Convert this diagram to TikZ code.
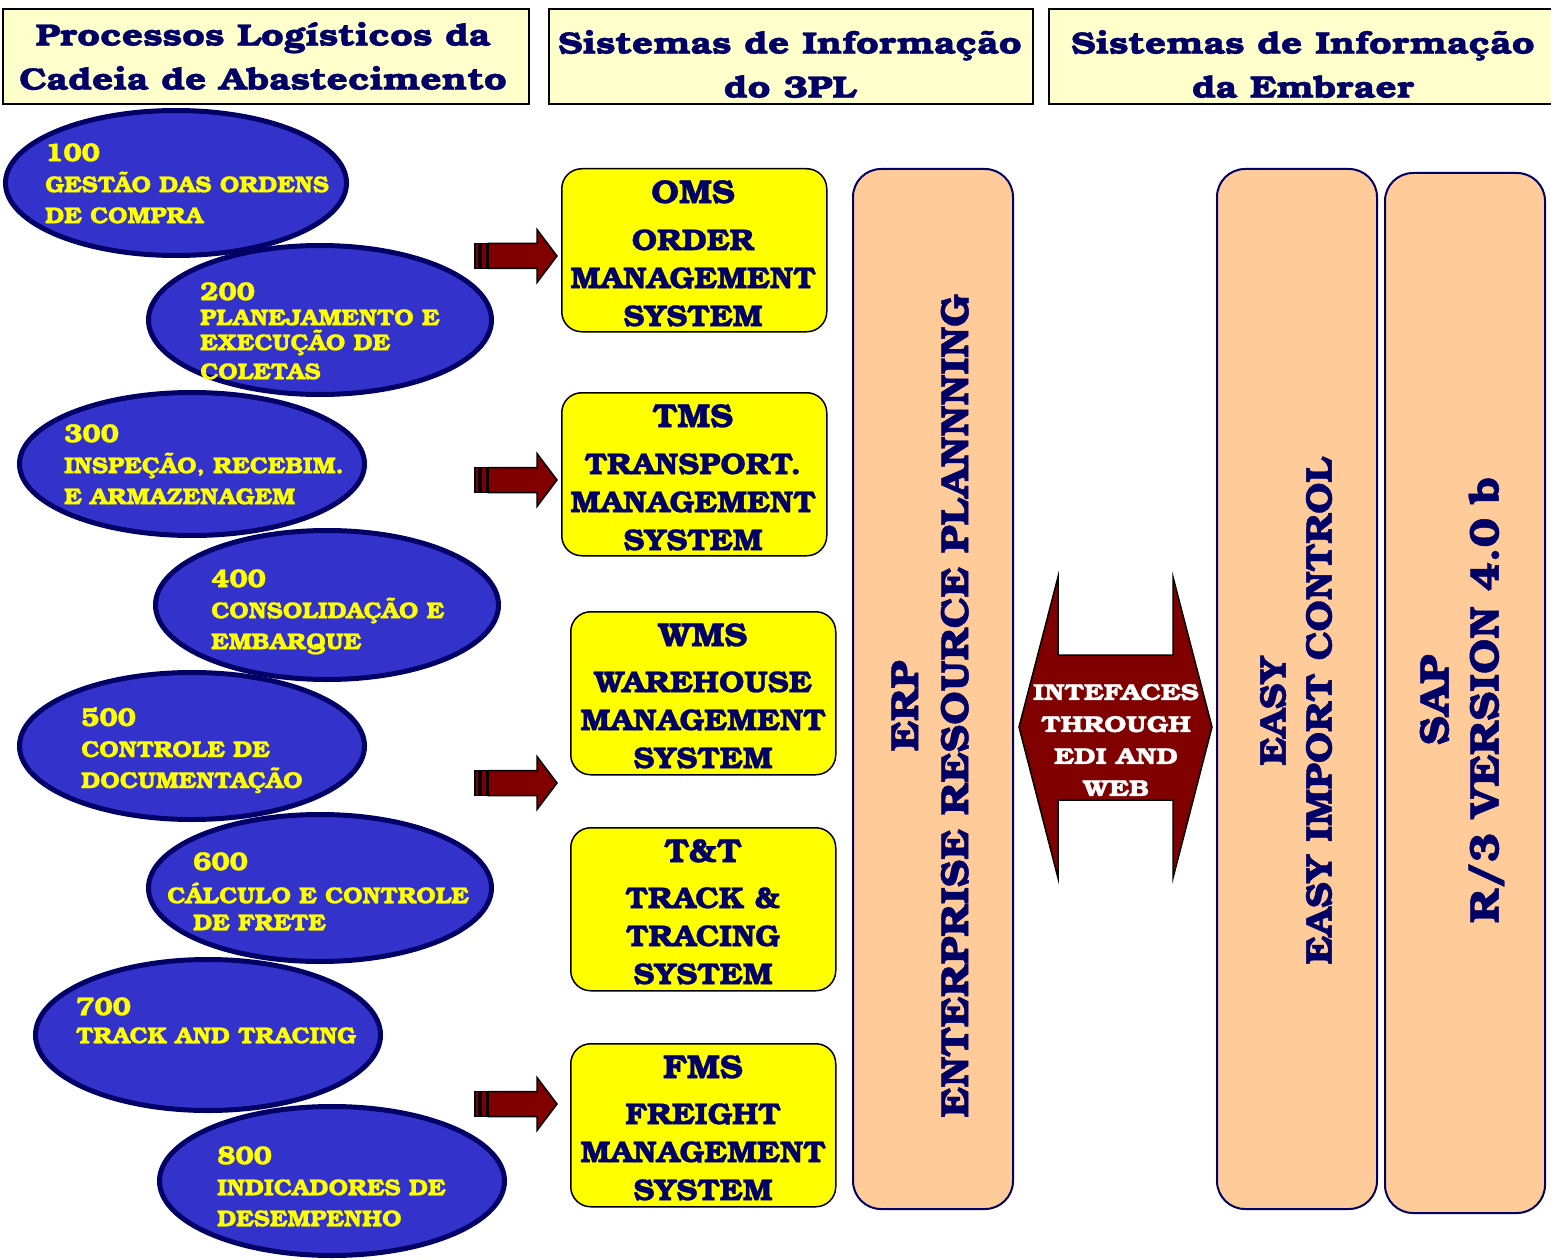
\documentclass[tikz,border=0pt]{standalone}
\usepackage{fontspec}
\setmainfont{texgyrebonum}[Extension=.otf, UprightFont=*-bold, BoldFont=*-bold, FakeStretch=1.06, FakeBold=1]
\newfontfamily\widefnt{texgyrebonum}[Extension=.otf, UprightFont=*-bold, BoldFont=*-bold, FakeStretch=1.2, FakeBold=1]
\usetikzlibrary{shapes.geometric}
\definecolor{navy}{HTML}{000066}
\definecolor{ellblue}{HTML}{3333CC}
\definecolor{hdrfill}{HTML}{FFFFCC}
\definecolor{boxyellow}{HTML}{FFFF00}
\definecolor{orangefill}{HTML}{FFCC99}
\definecolor{arrowred}{HTML}{800000}
\newcommand{\fsz}[2]{\fontsize{#1}{#2}\selectfont}
\tikzset{
  hdr/.style={draw=black, line width=2pt, fill=hdrfill, anchor=north west, inner sep=0pt},
  hdrtext/.style={text=navy, align=center, font=\widefnt\fsz{31}{44}, inner sep=0pt},
  ell/.style={ellipse, draw=navy, line width=5pt, fill=ellblue, inner sep=0pt},
  etext/.style={text=boxyellow, align=left, anchor=north west, inner sep=0pt, font=\fsz{23}{31}},
  ybox/.style={draw=black, line width=1.5pt, fill=boxyellow, rounded corners=20pt, anchor=north west, inner sep=0pt, minimum width=265pt, minimum height=163pt},
  ytext/.style={text=navy, align=center, anchor=north, inner sep=0pt, font=\fsz{30}{38}},
  obox/.style={draw=navy, line width=2pt, fill=orangefill, rounded corners=28pt, anchor=north west, inner sep=0pt, minimum width=160pt, minimum height=1040pt},
  vtext/.style={text=navy, align=center, rotate=90, inner sep=0pt, font=\fsz{39.5}{50}},
  redshape/.style={draw=black, line width=1.5pt, fill=arrowred},
  stripearrow/.pic={
    \path[redshape] (0,-12.5) rectangle (4,12.5);
    \path[redshape] (6,-12.5) rectangle (12,12.5);
    \path[redshape] (13,-12.5) -- (62,-12.5) -- (62,-26.5) -- (82,0) -- (62,26.5) -- (62,12.5) -- (13,12.5) -- cycle;
  }
}
\begin{document}
\begin{tikzpicture}[x=1pt,y=-1pt]
\useasboundingbox[fill=white] (0,0) rectangle (1551,1260);

% headers
\node[hdr, minimum width=526pt, minimum height=95pt] (h1) at (2,8) {};
\node[hdrtext] (h1t) at (263,56) {Processos Logísticos da\\Cadeia de Abastecimento};
\node[hdr, minimum width=484pt, minimum height=95pt] (h2) at (548,8) {};
\node[hdrtext] (h2t) at (790,64) {Sistemas de Informação\\do 3PL};
\node[hdr, minimum width=503pt, minimum height=95pt] (h3) at (1048,8) {};
\node[hdrtext] (h3t) at (1303,64) {Sistemas de Informação\\da Embraer};

% ellipses
\node[ell, minimum width=341pt, minimum height=145pt] (e1) at (176,183) {};
\node[etext] (t1) at (45,143) {{\fsz{26}{31}100}\\GESTÃO DAS ORDENS\\DE COMPRA};
\node[ell, minimum width=343pt, minimum height=149pt] (e2) at (320,320) {};
\node[etext, font=\fsz{23}{25}] (t2) at (200,282) {{\fsz{26}{25}200}\\PLANEJAMENTO E\\EXECUÇÃO DE\\[4pt]COLETAS};
\node[ell, minimum width=345pt, minimum height=143pt] (e3) at (192,464) {};
\node[etext] (t3) at (64,424) {{\fsz{26}{31}300}\\INSPEÇÃO, RECEBIM.\\E ARMAZENAGEM};
\node[ell, minimum width=343pt, minimum height=149pt] (e4) at (327,605) {};
\node[etext] (t4) at (211,569) {{\fsz{26}{31}400}\\CONSOLIDAÇÃO E\\EMBARQUE};
\node[ell, minimum width=345pt, minimum height=147pt] (e5) at (192,746) {};
\node[etext] (t5) at (81,707) {{\fsz{26}{31}500}\\CONTROLE DE\\DOCUMENTAÇÃO};
\node[ell, minimum width=343pt, minimum height=147pt] (e6) at (320,888) {};
\node[etext] (t6) at (167,852) {\hspace*{26pt}{\fsz{26}{31}600}\\[2pt]CÁLCULO E CONTROLE\\[-4pt]\hspace*{26pt}DE FRETE};
\node[ell, minimum width=345pt, minimum height=151pt] (e7) at (208,1035) {};
\node[etext, font=\fsz{23}{28}] (t7) at (76,997) {{\fsz{26}{28}700}\\TRACK AND TRACING};
\node[ell, minimum width=345pt, minimum height=149pt] (e8) at (332,1181) {};
\node[etext] (t8) at (217,1146) {{\fsz{26}{31}800}\\INDICADORES DE\\DESEMPENHO};

% striped arrows
\pic at (475,256) {stripearrow};
\pic at (475,480) {stripearrow};
\pic at (475,783) {stripearrow};
\pic at (475,1104) {stripearrow};

% 3PL systems
\node[ybox] (oms) at (561,168) {};
\node[ytext] (omst) at (693,180) {{\fsz{33}{38}OMS}\\[9pt]ORDER\\MANAGEMENT\\SYSTEM};
\node[ybox] (tms) at (561,392) {};
\node[ytext] (tmst) at (693,404) {{\fsz{33}{38}TMS}\\[9pt]TRANSPORT.\\MANAGEMENT\\SYSTEM};
\node[ybox] (wms) at (570,611) {};
\node[ytext] (wmst) at (703,623) {{\fsz{33}{38}WMS}\\[8pt]WAREHOUSE\\MANAGEMENT\\SYSTEM};
\node[ybox] (tt) at (570,827) {};
\node[ytext] (ttt) at (703,839) {{\fsz{33}{38}T\&T}\\[8pt]TRACK \&\\TRACING\\SYSTEM};
\node[ybox] (fms) at (570,1043) {};
\node[ytext] (fmst) at (703,1055) {{\fsz{33}{38}FMS}\\[8pt]FREIGHT\\MANAGEMENT\\SYSTEM};

% orange columns
\node[obox] (erp) at (852,168) {};
\node[vtext] (erpt) at (930,706) {ERP\\ENTERPRISE RESOURCE PLANNNING};
\node[obox] (easy) at (1216,168) {};
\node[vtext, font=\fsz{37}{46}] (easyt) at (1296,711) {EASY\\EASY IMPORT CONTROL};
\node[obox] (sap) at (1384,172) {};
\node[vtext, font=\fsz{41.5}{50}] (sapt) at (1462,700) {SAP\\R/3 VERSION 4.0 b};

% double arrow
\path[redshape] (1019,727) -- (1058,577) -- (1058,655) -- (1173,655) -- (1173,577) -- (1212,727) -- (1173,878) -- (1173,800) -- (1058,800) -- (1058,878) -- cycle;
\node[text=white, align=center, inner sep=0pt, font=\widefnt\fsz{23}{32}] (edi) at (1116,740) {INTEFACES\\THROUGH\\EDI AND\\WEB};
\end{tikzpicture}
\end{document}
